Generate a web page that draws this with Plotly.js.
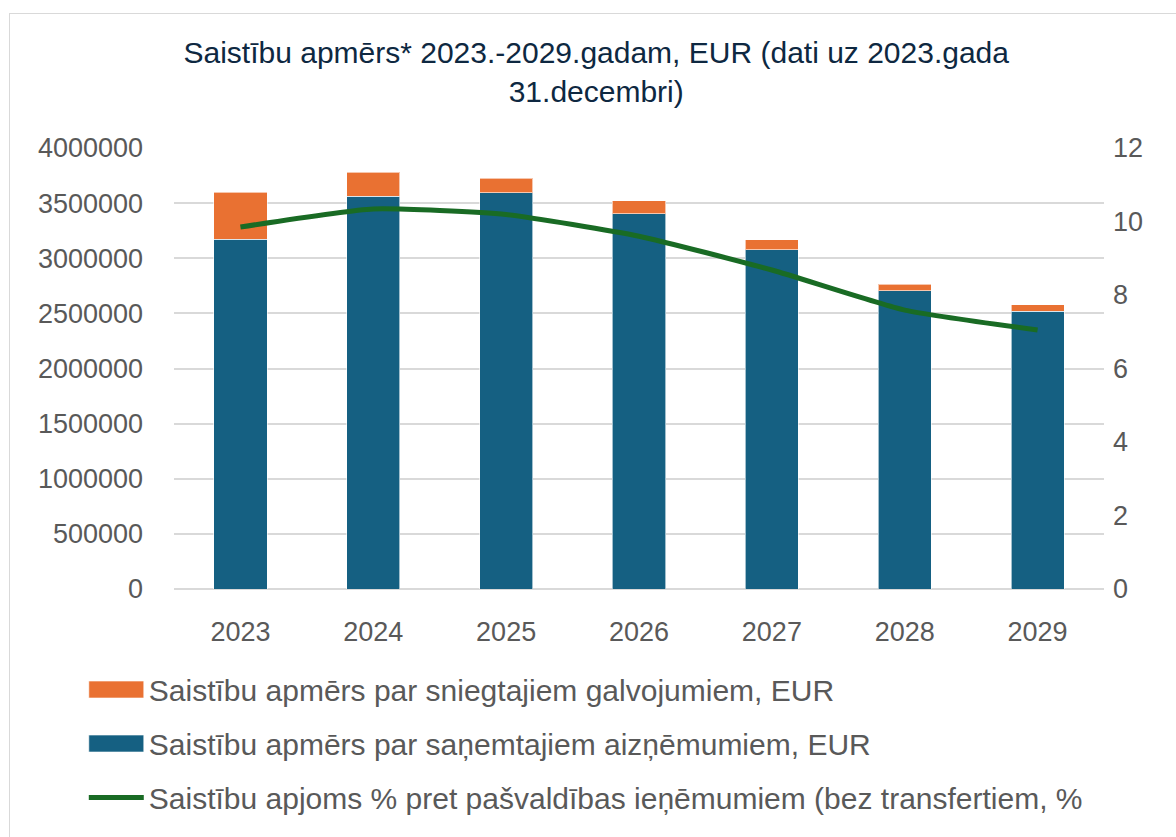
<!DOCTYPE html>
<html>
<head>
<meta charset="utf-8">
<script src="https://cdn.plot.ly/plotly-3.0.1.min.js"></script>
<style>
  html, body { margin: 0; padding: 0; background: #ffffff; }
  #chart { width: 1176px; height: 837px; position: absolute; left: 0; top: 0; }
  #frame { position: absolute; left: 9px; top: 13px; width: 1200px; height: 900px; border: 1px solid #d9d9d9; pointer-events: none; }
</style>
</head>
<body>
<div id="chart"></div>
<div id="frame"></div>
<script>
const years = ['2023', '2024', '2025', '2026', '2027', '2028', '2029'];
const loans = [3172000, 3562000, 3595000, 3404000, 3078000, 2706000, 2519000];
const guarantees = [428000, 218000, 130000, 118000, 88000, 60000, 60000];
const ratioPct = [9.85, 10.34, 10.19, 9.6, 8.68, 7.59, 7.05];

const nameGuar = 'Saistību apmērs par sniegtajiem galvojumiem, EUR';
const nameLoans = 'Saistību apmērs par saņemtajiem aizņēmumiem, EUR';
const nameRatio = 'Saistību apjoms % pret pašvaldības ieņēmumiem (bez transfertiem, %';

const regular = '"Liberation Sans", Arial, sans-serif';

const traces = [
  {
    type: 'bar', x: years, y: loans, name: nameLoans,
    marker: { color: '#156082', line: { color: 'rgba(255,255,255,0.6)', width: 1 } },
    legendgroup: 'b', legendrank: 2, hoverinfo: 'x+y'
  },
  {
    type: 'bar', x: years, y: guarantees, name: nameGuar,
    marker: { color: '#E97132', line: { color: 'rgba(255,255,255,0.6)', width: 1 } },
    legendgroup: 'a', legendrank: 1, hoverinfo: 'x+y'
  },
  {
    type: 'scatter', mode: 'lines', x: years, y: ratioPct, name: nameRatio, yaxis: 'y2',
    line: { color: '#196B24', width: 5, shape: 'spline', smoothing: 0.5 },
    legendgroup: 'c', legendrank: 3
  }
];

const layout = {
  width: 1176, height: 837,
  paper_bgcolor: '#ffffff', plot_bgcolor: '#ffffff',
  margin: { l: 174, r: 72, t: 148, b: 248 },
  barmode: 'stack', bargap: 0.6,
  title: {
    text: 'Saistību apmērs* 2023.-2029.gadam, EUR (dati uz 2023.gada<br>31.decembri)',
    font: { family: regular, size: 30, color: '#0E2841' },
    x: 0.507, xanchor: 'center', y: 0.925, yanchor: 'top'
  },
  xaxis: {
    type: 'category',
    tickfont: { family: regular, size: 27, color: '#595959' },
    showgrid: false, zeroline: false, showline: false, ticks: '',
    ticklabelstandoff: 24
  },
  yaxis: {
    range: [0, 4000000], dtick: 500000, tickformat: 'd',
    tickfont: { family: regular, size: 27, color: '#595959' },
    gridcolor: '#d9d9d9', gridwidth: 1.5, zeroline: true, zerolinecolor: '#d9d9d9', zerolinewidth: 1.5,
    showline: false, ticks: '', ticklabelstandoff: 30
  },
  yaxis2: {
    overlaying: 'y', side: 'right', range: [0, 12], dtick: 2,
    tickfont: { family: regular, size: 27, color: '#595959' },
    showgrid: false, zeroline: false, showline: false, ticks: '', ticklabelstandoff: 8
  },
  showlegend: true,
  legend: {
    orientation: 'v', x: -0.097, xanchor: 'left', y: -0.169, yanchor: 'top',
    traceorder: 'grouped', tracegroupgap: 12,
    font: { family: regular, size: 30, color: '#595959' },
    itemwidth: 55, bgcolor: 'rgba(0,0,0,0)'
  }
};

Plotly.newPlot('chart', traces, layout, { displayModeBar: false, responsive: false }).then(function (gd) {
  // widen the bar legend swatches to match the line swatch length
  const lineSwatch = gd.querySelector('.legend .legendlines path');
  if (!lineSwatch) return;
  const bb = lineSwatch.getBBox();
  const lineE = lineSwatch.getCTM().e;
  gd.querySelectorAll('.legend .legendpoints path').forEach(function (p) {
    const off = lineE - p.getCTM().e;
    p.setAttribute('d', 'M' + (bb.x + off) + ',-8.5h' + bb.width + 'v17h' + (-bb.width) + 'Z');
  });
});
</script>
</body>
</html>
